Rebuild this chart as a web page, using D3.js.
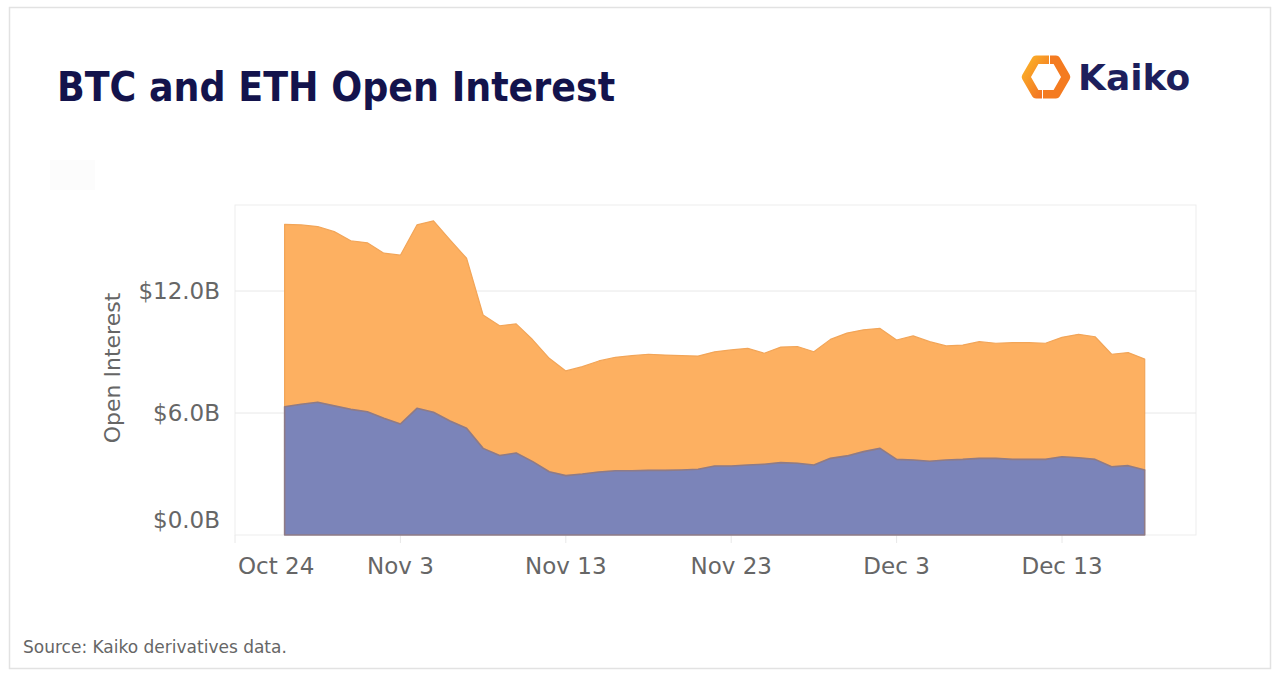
<!DOCTYPE html>
<html>
<head>
<meta charset="utf-8">
<script src="https://cdn.jsdelivr.net/npm/d3@7"></script>
<style>
  body { margin: 0; background: #fff; }
  text { font-family: 'DejaVu Sans', sans-serif; }
</style>
</head>
<body>
<div class="oi-wrapper"></div>
<script>

// daily open interest, $B
const days = ['2022-10-27','2022-10-28','2022-10-29','2022-10-30','2022-10-31',
'2022-11-01','2022-11-02','2022-11-03','2022-11-04','2022-11-05','2022-11-06','2022-11-07','2022-11-08','2022-11-09','2022-11-10',
'2022-11-11','2022-11-12','2022-11-13','2022-11-14','2022-11-15','2022-11-16','2022-11-17','2022-11-18','2022-11-19','2022-11-20',
'2022-11-21','2022-11-22','2022-11-23','2022-11-24','2022-11-25','2022-11-26','2022-11-27','2022-11-28','2022-11-29','2022-11-30',
'2022-12-01','2022-12-02','2022-12-03','2022-12-04','2022-12-05','2022-12-06','2022-12-07','2022-12-08','2022-12-09','2022-12-10',
'2022-12-11','2022-12-12','2022-12-13','2022-12-14','2022-12-15','2022-12-16','2022-12-17','2022-12-18']

const ethOI = [6.31,6.43,6.53,6.35,6.18, 6.06,5.74,5.46,6.23,6.04, 5.61,5.25,4.26,3.91,4.03,
3.61,3.11,2.92,3.00,3.10, 3.16,3.16,3.18,3.18,3.20, 3.23,3.39,3.39,3.44,3.48,
3.56,3.53,3.44,3.77,3.89, 4.10,4.26,3.72,3.69,3.63, 3.69,3.72,3.77,3.77,3.72,
3.72,3.72,3.85,3.80,3.72, 3.36,3.41,3.20]

const btcOI = [8.97,8.82,8.64,8.57,8.29, 8.31,8.12,8.30,9.02,9.41, 8.90,8.36,6.56,6.38,6.35,
5.99,5.58,5.15,5.28,5.46, 5.58,5.66,5.71,5.67,5.62, 5.57,5.62,5.71,5.74,5.46,
5.68,5.74,5.57,5.85,6.04, 5.99,5.90,5.87,6.10,5.88, 5.61,5.62,5.74,5.66,5.74,
5.74,5.71,5.87,6.07,6.03, 5.53,5.56,5.45]

const xTicks = ['2022-10-24','2022-11-03','2022-11-13','2022-11-23','2022-12-03','2022-12-13']
const yTicks = [0, 6, 12]

const width = 1280
const height = 681

const plot = {left:235, right:1196, top:205, bottom:535}

const parse = d3.timeParse('%Y-%m-%d')

const svg = d3.select('.oi-wrapper')
.append('svg')
.attr('width', width)
.attr('height', height)

// card
svg.append('rect')
.attr('x', 9.5).attr('y', 7.5)
.attr('width', 1261).attr('height', 661)
.attr('fill', '#fff')
.attr('stroke', '#e2e2e2')
.attr('stroke-width', 1.5)

svg.append('text')
.attr('x', 57)
.attr('y', 101)
.style('font-family', "'DejaVu Sans Condensed', 'DejaVu Sans', sans-serif")
.style('font-stretch', 'condensed')
.style('font-weight', 'bold')
.style('font-size', '40.5px')
.attr('fill', '#13134c')
.text('BTC and ETH Open Interest')

// logo
const logo = svg.append('g')
const grad = svg.append('defs').append('linearGradient')
.attr('id', 'kgrad').attr('x1', 0).attr('y1', 0).attr('x2', 1).attr('y2', 1)
grad.append('stop').attr('offset', 0).attr('stop-color', '#fbb128')
grad.append('stop').attr('offset', 1).attr('stop-color', '#f16a22')

const cx = 1046, cy = 77, r = 20
const hx = r * 0.5, hy = r * 0.866
logo.append('path')
.attr('d', `M${cx+3},${cy-hy} L${cx-hx},${cy-hy} L${cx-r},${cy} L${cx-hx},${cy+hy} L${cx-4},${cy+hy}`)
.attr('fill', 'none').attr('stroke', 'url(#kgrad)').attr('stroke-width', 8.5).attr('stroke-linejoin', 'round')
logo.append('path')
.attr('d', `M${cx-3},${cy+hy} L${cx+hx},${cy+hy} L${cx+r},${cy} L${cx+hx},${cy-hy} L${cx+4},${cy-hy}`)
.attr('fill', 'none').attr('stroke', '#f47b20').attr('stroke-width', 8.5).attr('stroke-linejoin', 'round')

logo.append('text')
.attr('x', 1078)
.attr('y', 90)
.style('font-weight', 'bold')
.style('font-size', '36px')
.attr('fill', '#1d1f5c')
.text('Kaiko')

// faint legend placeholder
svg.append('rect')
.attr('x', 50).attr('y', 160).attr('width', 45).attr('height', 30)
.attr('fill', '#fcfcfc')

const xScale = d3.scaleTime()
.domain([parse('2022-10-24'), parse('2022-12-13')])
.range([plot.left, 1062])

const yScale = d3.scaleLinear()
.domain([0, 12])
.range([plot.bottom, 291])

// plot frame
svg.append('rect')
.attr('x', plot.left).attr('y', plot.top)
.attr('width', plot.right - plot.left).attr('height', plot.bottom - plot.top)
.attr('fill', '#fff')
.attr('stroke', '#ededed')

const grid = svg.append('g')
grid.selectAll('line')
.data(yTicks.filter(d => d > 0))
.enter()
.append('line')
.attr('x1', plot.left).attr('x2', plot.right)
.attr('y1', d => yScale(d)).attr('y2', d => yScale(d))
.attr('stroke', '#e8e8e8')

const axis = svg.append('g')

axis.selectAll('.ylab')
.data(yTicks)
.enter()
.append('text')
.attr('class', 'ylab')
.attr('x', 220)
.attr('y', d => Math.min(yScale(d), plot.bottom - 15))
.attr('dy', '0.36em')
.attr('text-anchor', 'end')
.style('font-size', '23px')
.attr('fill', '#666')
.text(d => '$' + d3.format('.1f')(d) + 'B')

axis.selectAll('.xtick')
.data(xTicks)
.enter()
.append('line')
.attr('x1', d => xScale(parse(d))).attr('x2', d => xScale(parse(d)))
.attr('y1', plot.bottom).attr('y2', plot.bottom + 8)
.attr('stroke', '#e8e8e8')

axis.selectAll('.xlab')
.data(xTicks)
.enter()
.append('text')
.attr('class', 'xlab')
.attr('x', (d,i) => i == 0 ? xScale(parse(d)) + 3 : xScale(parse(d)))
.attr('y', 574)
.attr('text-anchor', (d,i) => i == 0 ? 'start' : 'middle')
.style('font-size', '23px')
.attr('fill', '#666')
.text(d => d3.timeFormat('%b %-d')(parse(d)))

svg.append('text')
.attr('transform', 'translate(120,368) rotate(-90)')
.attr('text-anchor', 'middle')
.style('font-size', '22px')
.attr('fill', '#666')
.text('Open Interest')

// stacked areas
const rows = days.map((d,i) => ({date:parse(d), eth:ethOI[i], btc:btcOI[i]}))

const stack = d3.stack().keys(['eth', 'btc'])
const series = stack(rows)

const area = d3.area()
.curve(d3.curveLinear)
.x(d => xScale(d.data.date))
.y0(d => yScale(d[0]))
.y1(d => yScale(d[1]))

const fills = {eth:'#7b84b9', btc:'#fdb061'}
const strokes = {eth:'#8f7b86', btc:'#f2a558'}

const areas = svg.append('g')

areas.selectAll('path')
.data(series.slice().reverse())
.enter()
.append('path')
.attr('d', area)
.attr('fill', d => fills[d.key])
.attr('stroke', d => strokes[d.key])
.attr('stroke-width', d => d.key == 'eth' ? 1.6 : 1.2)
.attr('stroke-linejoin', 'round')

svg.append('text')
.attr('x', 23)
.attr('y', 653)
.style('font-size', '17px')
.attr('fill', '#666')
.text('Source: Kaiko derivatives data.')

</script>
</body>
</html>
